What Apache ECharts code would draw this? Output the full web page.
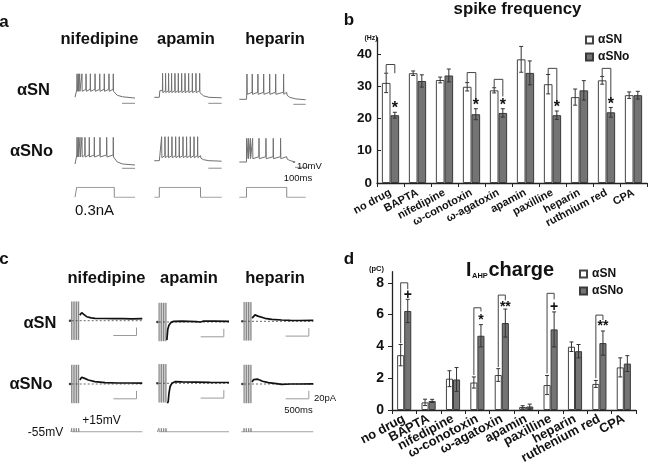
<!DOCTYPE html>
<html><head><meta charset="utf-8">
<script src="https://cdn.jsdelivr.net/npm/echarts@6/dist/echarts.min.js"></script>
<style>html,body{margin:0;padding:0;background:#fff}#c{width:658px;height:470px}</style>
</head><body><div id="c"></div>
<script>
// ================= DATA =================
// Panel b: spike frequency (Hz)
const drugsB = ['no drug','BAPTA','nifedipine','ω-conotoxin','ω-agatoxin','apamin','paxilline','heparin','ruthnium red','CPA'];
const freqSN     = [31.0, 34.0, 31.9, 29.8, 28.7, 38.3, 30.6, 26.6, 31.8, 27.2];
const freqSNerr  = [3.0, 0.7, 0.9, 1.3, 0.8, 4.0, 3.0, 2.5, 1.2, 1.0];
const freqSNo    = [21.0, 31.6, 33.3, 21.3, 21.7, 34.1, 21.0, 28.7, 21.9, 27.2];
const freqSNoErr = [0.9, 1.9, 2.0, 1.7, 1.3, 3.7, 1.3, 3.0, 1.5, 1.2];
const freqTicks  = [0, 10, 20, 30, 40];
const sigIdxB    = [0, 3, 4, 6, 8];
const sigMarkB   = ['*', '*', '*', '*', '*'];
const brTopB     = [36.7, 34.2, 32.1, 35.5, 35.5];
const brLeftB    = [34.1, 31.2, 29.6, 33.7, 33.1];
const brRightB   = [34.0, 25.6, 26.8, 25.0, 25.8];
const sigPosB    = [23.0, 24.0, 24.0, 23.2, 24.2];

// Panel d: I_AHP charge (pC)
const drugsD = ['no drug','BAPTA','nifedipine','ω-conotoxin','ω-agatoxin','apamin','paxilline','heparin','ruthenium red','CPA'];
const chargeSN     = [3.45, 0.48, 1.97, 1.73, 2.20, 0.19, 1.57, 3.98, 1.64, 2.68];
const chargeSNerr  = [0.67, 0.20, 0.50, 0.35, 0.40, 0.08, 0.60, 0.30, 0.22, 0.60];
const chargeSNo    = [6.23, 0.57, 1.92, 4.67, 5.47, 0.22, 5.07, 3.70, 4.21, 2.92];
const chargeSNoErr = [0.73, 0.10, 0.75, 0.70, 0.88, 0.15, 1.10, 0.42, 0.76, 0.50];
const chargeTicks  = [0, 2, 4, 6, 8];
const sigIdxD  = [0, 3, 4, 6, 8];
const sigMarkD = ['+', '*', '**', '+', '**'];
const brTopD   = [8.0, 6.43, 7.23, 7.34, 5.97];
const brLeftD  = [4.2, 2.2, 2.7, 2.3, 2.0];
const brRightD = [7.6, 6.2, 6.9, 6.96, 5.66];
const sigPosD  = [7.25, 5.65, 6.5, 6.45, 5.25];

// Panel a: membrane potential (ms, mV) and current step (nA)
const aDrugs = ['nifedipine', 'apamin', 'heparin'];
const aStepMs = [[14, 327], [42, 385], [60, 395]];
const aSweepEndSN  = [500, 561, 553];
const aSweepEndSNo = [500, 561, 447];
const restMv = -62;
const spikesSN  = [[17,28,39,58,92,128,167,206,244,283,319],
                   [69,94,119,144,172,200,228,256,286,317,347,378],
                   [64,108,155,203,253,303,369]];
const spikesSNo = [[17,28,42,58,83,119,161,208,264,319],
                   [61,89,117,147,178,208,239,269,300,331,361],
                   [61,75,92,111,164,222,283,344]];
const plateauSN  = [-46, -48.7, -48];
const peakSN     = [-15, -14, -11.4];
const plateauSNo = [-44, -52, -51.4];
const peakSNo    = [-8.6, -14, -14.6];
const tailMs     = [3, 25, 70];
const tailSN     = [[-54,-58,-61],[-55,-59,-62],[-54,-58,-61]];
const tailEndSN  = [-63.5, -63, -63];
const tailSNo    = [[-52,-58,-62],[-57,-60,-62],[-56,-59,-62]];
const tailEndSNo = [-64, -63, -63];
const barMsSN  = [[392, 500], [450, 561], [450, 553]];
const barMsSNo = [[392, 500], [450, 561], [464, 572]];
const barMvSN  = [-74, -74, -72];
const barMvSNo = [-70.6, -77, -72.6];
const stepNa = 0.3;

// Panel c: tail currents (ms, pA) and voltage command (mV)
const cPulseMs = [0, 50, 100, 150];
const cPulseWidthMs = 3;
const holdMv = -55, pulseMv = 15;
const cCmdStart = [-15, -37, -60];
const cSweepEnd = [1525, 1512, 1497];
const cTraceSN = [
  [[175,14],[216,20],[260,16],[324,10],[420,7],[503,6],[700,5.5],[900,5],[1100,5],[1300,4.5],[1525,5]],
  [[170,-45],[190,-18],[215,-8],[259,-1],[320,1.5],[500,2],[800,1],[900,0],[950,2],[1200,2],[1512,1.5]],
  [[175,8],[205,13],[238,16],[300,13],[454,7.5],[600,5],[814,3.3],[1000,2.5],[1200,2],[1497,2.5]]
];
const cTraceSNo = [
  [[175,10],[216,17],[280,14],[359,10],[500,6],[719,3.3],[1000,2.5],[1250,2.5],[1525,2]],
  [[170,-55],[200,-45],[215,-25],[240,-8],[280,0],[346,4],[500,3.5],[800,3],[1100,2.5],[1512,2]],
  [[175,5],[205,11],[238,14],[300,12],[400,7],[526,3.3],[700,1],[814,-1],[1000,0],[1200,0],[1497,0.5]]
];
const cHoldSampleMs = -37;
const cScaleBar = [[900,-37],[1400,-37],[1400,-17]];

// ================= LAYOUT / BUILD =================
const FF = '"Liberation Sans", Arial, Helvetica, sans-serif';
const grids = [], xAxes = [], yAxes = [], series = [];
function addValueGrid(left, top, width, height, xr, yr) {
  const i = grids.length;
  grids.push({left, top, width, height});
  xAxes.push({type:'value', gridIndex:i, min:xr[0], max:xr[1], show:false});
  yAxes.push({type:'value', gridIndex:i, min:yr[0], max:yr[1], show:false});
  return i;
}
function lineSeries(gi, data, color, width, extra) {
  return Object.assign({type:'line', xAxisIndex:gi, yAxisIndex:gi, data, showSymbol:false, symbol:'none',
    lineStyle:{color, width}, silent:true, animation:false, z:2}, extra || {});
}

// ---- bar charts ----
function barChart(cfg) {
  const gi = grids.length;
  grids.push({left:cfg.left, top:cfg.top, width:cfg.width, height:cfg.height});
  xAxes.push({type:'category', gridIndex:gi, data:cfg.cats,
    axisLine:{show:true, lineStyle:{color:'#222', width:1.3}},
    axisTick:{show:true, length:4, interval:0, lineStyle:{color:'#222'}},
    axisLabel:{interval:0, rotate:cfg.rot, fontSize:cfg.catFont, fontWeight:'bold', color:'#111', fontFamily:FF, margin:cfg.catMargin}});
  yAxes.push({type:'value', gridIndex:gi, min:0, max:cfg.max,
    splitLine:{show:false},
    axisLine:{show:true, lineStyle:{color:'#222', width:1.3}},
    axisTick:{show:true, inside:cfg.tickInside, length:4, customValues:cfg.ticks, lineStyle:{color:'#222'}},
    axisLabel:{customValues:cfg.ticks, fontSize:cfg.tickFont, fontWeight:'bold', color:'#111', fontFamily:FF, margin:cfg.tickMargin}});
  const gap = cfg.gap;
  series.push({type:'bar', name:'αSN', xAxisIndex:gi, yAxisIndex:gi, data:cfg.sn, barGap:'0%', barCategoryGap:(gap*100)+'%',
    itemStyle:{color:'#ffffff', borderColor:'#444', borderWidth:1}, animation:false, silent:true});
  series.push({type:'bar', name:'αSNo', xAxisIndex:gi, yAxisIndex:gi, data:cfg.sno, barGap:'0%', barCategoryGap:(gap*100)+'%',
    itemStyle:{color:'#747474', borderColor:'#3a3a3a', borderWidth:1}, animation:false, silent:true});
  const errRender = side => function(params, api) {
    const idx = api.value(0), v = api.value(1), e = api.value(2);
    const bw = api.size([1, 0])[0];
    const barW = bw * (1 - gap) / 2;
    const x = api.coord([idx, v])[0] + side * barW / 2;
    const yT = api.coord([idx, v + e])[1], yB = api.coord([idx, v - e])[1];
    const cap = 2, st = {stroke:'#333', lineWidth:1};
    return {type:'group', children:[
      {type:'line', shape:{x1:x, y1:yT, x2:x, y2:yB}, style:st},
      {type:'line', shape:{x1:x-cap, y1:yT, x2:x+cap, y2:yT}, style:st},
      {type:'line', shape:{x1:x-cap, y1:yB, x2:x+cap, y2:yB}, style:st}]};
  };
  series.push({type:'custom', xAxisIndex:gi, yAxisIndex:gi, renderItem:errRender(-1), z:5, silent:true, animation:false,
    data:cfg.sn.map((v, i) => [i, v, cfg.snErr[i]])});
  series.push({type:'custom', xAxisIndex:gi, yAxisIndex:gi, renderItem:errRender(1), z:5, silent:true, animation:false,
    data:cfg.sno.map((v, i) => [i, v, cfg.snoErr[i]])});
  series.push({type:'custom', xAxisIndex:gi, yAxisIndex:gi, z:6, silent:true, animation:false,
    data:cfg.sigIdx.map((c, k) => [c, cfg.brTop[k], cfg.brLeft[k], cfg.brRight[k], cfg.sigPos[k]]),
    renderItem:function(params, api) {
      const idx = api.value(0);
      const bw = api.size([1, 0])[0];
      const barW = bw * (1 - gap) / 2;
      const cx = api.coord([idx, 0])[0];
      const xL = cx - barW / 2, xR = cx + barW / 2;
      const yTop = api.coord([idx, api.value(1)])[1];
      const yL = api.coord([idx, api.value(2)])[1];
      const yR = api.coord([idx, api.value(3)])[1];
      const yS = api.coord([idx, api.value(4)])[1];
      return {type:'group', children:[
        {type:'polyline', shape:{points:[[xL, yL], [xL, yTop], [xR, yTop], [xR, yR]]}, style:{stroke:'#444', lineWidth:1, fill:null}},
        {type:'text', x:xR, y:yS, style:{text:cfg.sigMark[params.dataIndex], font:'bold '+cfg.sigFont+'px '+FF, fill:'#111', textAlign:'center', textVerticalAlign:'middle'}}]};
    }});
}
barChart({left:377, top:37.7, width:270, height:145.3, cats:drugsB, max:45, ticks:freqTicks, gap:0.36,
  sn:freqSN, snErr:freqSNerr, sno:freqSNo, snoErr:freqSNoErr, rot:28, catFont:11, catMargin:9,
  tickFont:13.5, tickMargin:5, tickInside:true,
  sigIdx:sigIdxB, sigMark:sigMarkB, brTop:brTopB, brLeft:brLeftB, brRight:brRightB, sigPos:sigPosB, sigFont:16});
barChart({left:392, top:271.7, width:244, height:138.3, cats:drugsD, max:8.7, ticks:chargeTicks, gap:0.42,
  sn:chargeSN, snErr:chargeSNerr, sno:chargeSNo, snoErr:chargeSNoErr, rot:28, catFont:13, catMargin:8,
  tickFont:14, tickMargin:8, tickInside:false,
  sigIdx:sigIdxD, sigMark:sigMarkD, brTop:brTopD, brLeft:brLeftD, brRight:brRightD, sigPos:sigPosD, sigFont:14});

// ---- panel a ----
const A_MS_PER_PX = 8.33;
const aColLeft = [75, 154.3, 239.3];
const aColMax = [500, 561, 575];
const aBasePxSN = [97.3, 97.3, 99.3];
const aBasePxSNo = [164, 160.7, 162];
const TRACE_A = '#707070';
function vTrace(spk, on, off, end, plat, peak, tail, endV) {
  const p = [[0, restMv], [on, restMv]];
  if (on + 4 < spk[0] - 1.5) p.push([on + 4, plat]);
  spk.forEach(t => { p.push([t - 1.5, plat], [t, peak], [t + 2, plat - 4], [t + 5, plat - 1]); });
  p.push([off, plat]);
  tailMs.forEach((dt, k) => p.push([off + dt, tail[k]]));
  p.push([end, endV]);
  return p;
}
for (let c = 0; c < 3; c++) {
  const w = aColMax[c] / A_MS_PER_PX;
  const [on, off] = aStepMs[c];
  let g = addValueGrid(aColLeft[c], aBasePxSN[c] - 31, w, 40, [0, aColMax[c]], [-80, 0]);
  series.push(lineSeries(g, vTrace(spikesSN[c], on, off, aSweepEndSN[c], plateauSN[c], peakSN[c], tailSN[c], tailEndSN[c]), TRACE_A, 1));
  series.push(lineSeries(g, [[barMsSN[c][0], barMvSN[c]], [barMsSN[c][1], barMvSN[c]]], '#8a8a8a', 1));
  g = addValueGrid(aColLeft[c], aBasePxSNo[c] - 31, w, 40, [0, aColMax[c]], [-80, 0]);
  series.push(lineSeries(g, vTrace(spikesSNo[c], on, off, aSweepEndSNo[c], plateauSNo[c], peakSNo[c], tailSNo[c], tailEndSNo[c]), TRACE_A, 1));
  series.push(lineSeries(g, [[barMsSNo[c][0], barMvSNo[c]], [barMsSNo[c][1], barMvSNo[c]]], '#8a8a8a', 1));
  g = addValueGrid(aColLeft[c], 187.3, w, 10, [0, aColMax[c]], [0, stepNa]);
  series.push(lineSeries(g, [[0, 0], [on, 0], [on, stepNa], [off, stepNa], [off, 0], [aSweepEndSN[c], 0]], '#8a8a8a', 1));
}

// ---- panel c ----
const C_MS_PER_PX = 21.6;
const cArtPx = [71.7, 159, 244];
const cRange = [-60, 1560];
const cBasePxSN = [320.7, 322, 321.3];
const cBasePxSNo = [384, 383.3, 384];
const artifactRender = function(params, api) {
  const cs = params.coordSys;
  const x = api.coord([api.value(0), 0])[0];
  const children = [];
  if (params.dataIndex === 0) {
    const x2 = api.coord([cPulseMs[cPulseMs.length - 1] + 10, 0])[0];
    children.push({type:'rect', shape:{x:x, y:cs.y, width:x2 - x, height:cs.height}, style:{fill:'#d2d2d2'}});
  }
  children.push({type:'line', shape:{x1:x, y1:cs.y, x2:x, y2:cs.y + cs.height}, style:{stroke:'#7c7c7c', lineWidth:1}});
  return {type:'group', children};
};
function currentGrid(c, basePx, trace) {
  const cw = (cRange[1] - cRange[0]) / C_MS_PER_PX;
  const left = cArtPx[c] + cRange[0] / C_MS_PER_PX;
  const g = addValueGrid(left, basePx - 19.2, cw, 38.4, cRange, [-48, 48]);
  series.push({type:'custom', xAxisIndex:g, yAxisIndex:g, renderItem:artifactRender, data:cPulseMs.map(t => [t]), z:1, silent:true, animation:false});
  series.push(lineSeries(g, [[0, 0], [cSweepEnd[c], 0]], '#444', 0.8, {lineStyle:{color:'#444', width:0.8, type:[2, 2]}}));
  series.push(lineSeries(g, trace, '#111', 1.7, {z:3}));
  series.push(lineSeries(g, cScaleBar, '#9a9a9a', 1));
  series.push({type:'scatter', xAxisIndex:g, yAxisIndex:g, data:[[cHoldSampleMs, 0]], symbolSize:2.5, itemStyle:{color:'#111'}, silent:true, animation:false});
}
for (let c = 0; c < 3; c++) {
  currentGrid(c, cBasePxSN[c], cTraceSN[c]);
  currentGrid(c, cBasePxSNo[c], cTraceSNo[c]);
  const cw = (cRange[1] - cRange[0]) / C_MS_PER_PX;
  const left = cArtPx[c] + cRange[0] / C_MS_PER_PX;
  const g = addValueGrid(left, 428.3, cw, 3.6, cRange, [holdMv, pulseMv]);
  const cmd = [[cCmdStart[c], holdMv]];
  cPulseMs.forEach(t => cmd.push([t, holdMv], [t, pulseMv], [t + cPulseWidthMs, pulseMv], [t + cPulseWidthMs, holdMv]));
  cmd.push([cSweepEnd[c], holdMv]);
  series.push(lineSeries(g, cmd, '#8a8a8a', 1));
}

// ---- texts ----
function txt(x, y, text, size, bold, align, color) {
  return {type:'text', x, y, z:100, silent:true,
    style:{text, font:(bold ? 'bold ' : '') + size + 'px ' + FF, fill:color || '#111', textAlign:align || 'center', textVerticalAlign:'middle'}};
}
const graphic = [
  txt(4, 22, 'a', 17, true), txt(349, 20, 'b', 17, true), txt(4, 259, 'c', 17, true), txt(349, 259, 'd', 17, true),
  txt(99.5, 39, aDrugs[0], 16.5, true), txt(186, 39, aDrugs[1], 16.5, true), txt(275, 39, aDrugs[2], 16.5, true),
  txt(106.5, 278, aDrugs[0], 16.5, true), txt(189, 278, aDrugs[1], 16.5, true), txt(275, 278, aDrugs[2], 16.5, true),
  txt(33.5, 90, 'αSN', 16.5, true), txt(31.5, 151, 'αSNo', 16.5, true),
  txt(40, 323, 'αSN', 16.5, true), txt(31, 384, 'αSNo', 16.5, true),
  txt(94.5, 211, '0.3nA', 15, false),
  txt(297, 166, '10mV', 9.5, false, 'left'), txt(298, 178, '100ms', 9.5, false),
  txt(314, 398, '20pA', 9.5, false, 'left'), txt(298.5, 410, '500ms', 9.5, false),
  txt(101.5, 421, '+15mV', 12, false), txt(45.5, 433, '-55mV', 12, false),
  txt(517.5, 9.5, 'spike frequency', 16.8, true),
  txt(371, 38.5, '(Hz)', 7, true), txt(376.5, 269, '(pC)', 7.5, true),
  txt(466, 270.5, 'I', 19.5, true, 'left'), txt(472, 275.5, 'AHP', 7.5, true, 'left'), txt(488.5, 270.5, 'charge', 20, true, 'left')
];

const legendBase = {orient:'vertical', icon:'rect', itemWidth:7, itemHeight:7, itemGap:5, selectedMode:false,
  textStyle:{fontSize:12, fontWeight:'bold', color:'#111', fontFamily:FF}, data:['αSN', 'αSNo']};

const chart = echarts.init(document.getElementById('c'), null, {renderer:'canvas'});
chart.setOption({
  animation:false,
  textStyle:{fontFamily:FF},
  grid:grids, xAxis:xAxes, yAxis:yAxes, series,
  legend:[Object.assign({left:580, top:29}, legendBase), Object.assign({left:574, top:263}, legendBase)],
  graphic
});
</script></body></html>
